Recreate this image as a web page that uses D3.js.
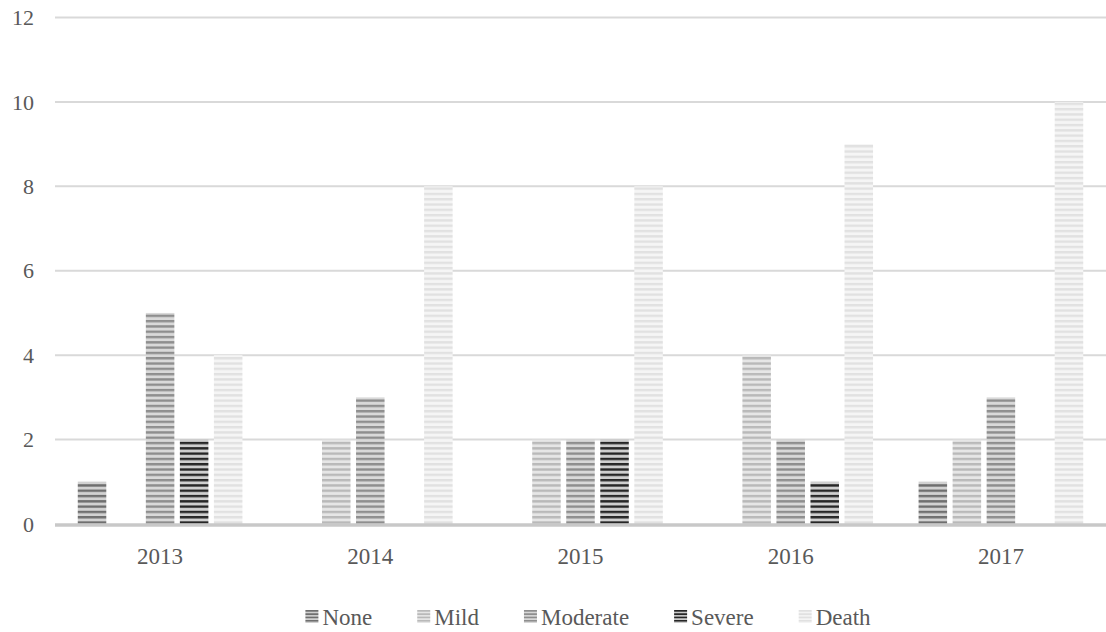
<!DOCTYPE html>
<html>
<head>
<meta charset="utf-8">
<script src="https://cdn.jsdelivr.net/npm/d3@7/dist/d3.min.js"></script>
<style>
  html, body { margin: 0; padding: 0; background: #ffffff; }
  svg { display: block; }
</style>
</head>
<body>
<svg id="chart" width="1106" height="632"></svg>
<script>
const categories = ["2013", "2014", "2015", "2016", "2017"];
const seriesNames = ["None", "Mild", "Moderate", "Severe", "Death"];
const noneValues     = [1, 0, 0, 0, 1];
const mildValues     = [0, 2, 2, 4, 2];
const moderateValues = [5, 3, 2, 2, 3];
const severeValues   = [2, 0, 2, 1, 0];
const deathValues    = [4, 8, 8, 9, 10];
const yTicks = [0, 2, 4, 6, 8, 10, 12];

(function () {
const seriesValues = [noneValues, mildValues, moderateValues, severeValues, deathValues];
// stripe colours: [stripe, background]
const stripeColors = [
  ["#6f6f6f", "#d2d2d2"],
  ["#b9b9b9", "#e6e6e6"],
  ["#8e8e8e", "#d9d9d9"],
  ["#262626", "#cfcfcf"],
  ["#e1e1e1", "#f5f5f5"]
];
const fontFam = "Liberation Serif, Tinos, Times New Roman, Noto Serif, DejaVu Serif";
const textColor = "#595959";

const svg = d3.select("#chart");
const mLeft = 55, mRight = 1106, mTop = 17.5, mBottom = 524;

const x0 = d3.scaleBand().domain(categories).range([mLeft, mRight]).paddingInner(0).paddingOuter(0);
const x1 = d3.scaleBand().domain(seriesNames).range([0, x0.bandwidth()]).paddingInner(0.162).paddingOuter(0.669);
const y = d3.scaleLinear().domain([0, 12]).range([mBottom, mTop]);

const defs = svg.append("defs");
const period = 5.3;
seriesNames.forEach((s, i) => {
  const p = defs.append("pattern")
    .attr("id", "pat" + i)
    .attr("patternUnits", "userSpaceOnUse")
    .attr("width", 8).attr("height", period)
    .attr("y", mBottom);
  p.append("rect").attr("width", 8).attr("height", period).attr("fill", stripeColors[i][1]);
  p.append("rect").attr("y", period * 0.5).attr("width", 8).attr("height", period * 0.45).attr("fill", stripeColors[i][0]);
  const q = defs.append("pattern")
    .attr("id", "lpat" + i)
    .attr("patternUnits", "userSpaceOnUse")
    .attr("width", 8).attr("height", 3.3)
    .attr("y", 610);
  q.append("rect").attr("width", 8).attr("height", 3.3).attr("fill", stripeColors[i][1]);
  q.append("rect").attr("y", 0).attr("width", 8).attr("height", 1.7).attr("fill", stripeColors[i][0]);
});

// gridlines
svg.append("g").selectAll("line")
  .data(yTicks.filter(t => t > 0))
  .join("line")
  .attr("x1", mLeft).attr("x2", mRight)
  .attr("y1", d => y(d)).attr("y2", d => y(d))
  .attr("stroke", "#d9d9d9").attr("stroke-width", 2);

// y tick labels
svg.append("g").selectAll("text")
  .data(yTicks)
  .join("text")
  .attr("x", 34).attr("y", d => y(d))
  .attr("dy", "0.35em")
  .attr("text-anchor", "end")
  .style("font-family", fontFam)
  .style("font-size", "22px")
  .style("fill", textColor)
  .text(d => d);

// bars
const groups = svg.append("g").selectAll("g")
  .data(categories)
  .join("g")
  .attr("transform", d => `translate(${x0(d)},0)`);

groups.selectAll("rect")
  .data((c, ci) => seriesNames.map((s, si) => ({ s, si, v: seriesValues[si][ci] })))
  .join("rect")
  .attr("x", d => x1(d.s))
  .attr("width", x1.bandwidth())
  .attr("y", d => y(d.v))
  .attr("height", d => y(0) - y(d.v))
  .attr("fill", d => `url(#pat${d.si})`);

// baseline
svg.append("line")
  .attr("x1", mLeft).attr("x2", mRight)
  .attr("y1", mBottom + 1).attr("y2", mBottom + 1)
  .attr("stroke", "#c8c8c8").attr("stroke-width", 3.5);

// x labels
svg.append("g").selectAll("text")
  .data(categories)
  .join("text")
  .attr("x", d => x0(d) + x0.bandwidth() / 2)
  .attr("y", 556)
  .attr("dy", "0.35em")
  .attr("text-anchor", "middle")
  .style("font-family", fontFam)
  .style("font-size", "23px")
  .style("fill", textColor)
  .text(d => d);

// legend
const legend = svg.append("g");
const items = legend.selectAll("g").data(seriesNames).join("g");
items.append("rect")
  .attr("width", 13).attr("height", 13)
  .attr("y", 610)
  .attr("fill", (d, i) => `url(#lpat${i})`);
items.append("text")
  .attr("x", 17).attr("y", 617)
  .attr("dy", "0.35em")
  .style("font-family", fontFam)
  .style("font-size", "23px")
  .style("fill", textColor)
  .text(d => d);
const gap = 45;
const widths = [];
items.each(function () { widths.push(this.querySelector("text").getComputedTextLength() + 17); });
const total = d3.sum(widths) + gap * (widths.length - 1);
let cx = 588 - total / 2;
items.each(function (d, i) {
  d3.select(this).attr("transform", `translate(${cx},0)`);
  cx += widths[i] + gap;
});
})();
</script>
</body>
</html>
